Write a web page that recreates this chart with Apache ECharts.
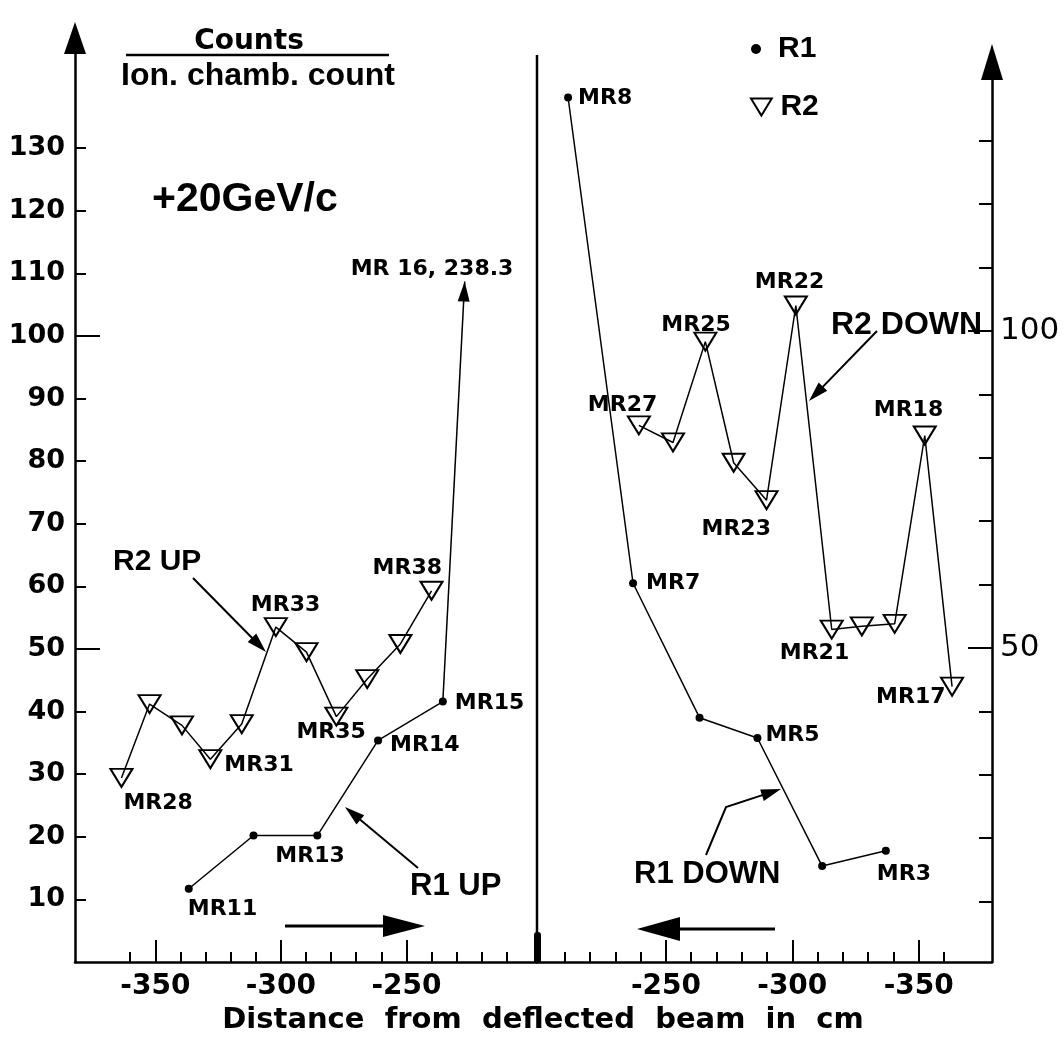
<!DOCTYPE html>
<html>
<head>
<meta charset="utf-8">
<script src="https://cdn.jsdelivr.net/npm/echarts@6/dist/echarts.min.js"></script>
<style>
  html, body { margin: 0; padding: 0; background: #fff; }
  #chart { width: 1064px; height: 1056px; }
</style>
</head>
<body>
<div id="chart"></div>
<script>
// Distance from the deflected beam (cm) and counts per ion-chamber count.
// R1 scans: filled dots; R2 scans: open triangles.
const r1UpX = [-336.7, -310.9, -285.5, -261.3, -235.5];
const r1UpY = [11.7, 20.2, 20.2, 35.4, 41.6];
const r1UpNames = ['MR11', '', 'MR13', 'MR14', 'MR15'];

// MR16 lies far off scale; the segment towards it is cut and ends in an arrow
const mr16Name = 'MR 16';
const mr16X = -210;
const mr16Y = 238.3;
const mr16CutY = 108.7;

const r2UpX = [-363.5, -352.3, -339.4, -328.1, -315.6, -302.0, -289.8, -277.9, -265.6, -252.4, -240.0];
const r2UpY = [29.4, 41.2, 37.8, 32.4, 38.0, 53.5, 49.5, 39.2, 45.2, 50.8, 59.3];
const r2UpNames = ['MR28', '', '', 'MR31', '', 'MR33', '', 'MR35', '', '', 'MR38'];

const r1DownX = [-211.3, -237.0, -263.3, -286.2, -311.8, -337.0];
const r1DownY = [136.8, 60.2, 39.0, 35.8, 15.6, 18.0];
const r1DownNames = ['MR8', 'MR7', '', 'MR5', '', 'MR3'];

const r2DownX = [-239.3, -252.8, -265.6, -276.8, -289.8, -301.4, -315.6, -327.5, -340.5, -352.4, -363.2];
const r2DownY = [85.1, 82.4, 98.3, 79.2, 73.3, 104.0, 52.9, 53.4, 53.8, 83.5, 43.9];
const r2DownNames = ['MR27', '', 'MR25', '', 'MR23', 'MR22', 'MR21', '', '', 'MR18', 'MR17'];

// Axis ticks and labels
const xMinorTicks = [-360, -350, -340, -330, -320, -310, -300, -290, -280, -270, -260, -250, -240, -230, -220, -210];
const xMajorTicks = [-350, -300, -250];
const yTicks = [10, 20, 30, 40, 50, 60, 70, 80, 90, 100, 110, 120, 130];
const yLeftLabels = [10, 20, 30, 40, 50, 60, 70, 80, 90, 100, 110, 120, 130];
const yLongTicks = [50, 100];
const yRightLabels = [50, 100];

const FONT = "'Liberation Sans', Arial, Helvetica, sans-serif";
const WIDE = "'DejaVu Sans', 'Liberation Sans', sans-serif";
const INK = '#000';

// where each point label sits relative to its point: [dx, dy] in px
const labelOffset = {
  MR28: [2, 25], MR31: [14, 6], MR33: [-25, -22], MR35: [-40, 16], MR38: [-59, -22],
  MR11: [-1, 21], MR13: [-42, 21], MR14: [12, 5], MR15: [12, 2],
  MR27: [-51, -20], MR25: [-44, -16], MR23: [-65, 29], MR22: [-41, -23], MR21: [-52, 24],
  MR18: [-51, -25], MR17: [-76, 11],
  MR8: [10, 1], MR7: [13, 0], MR5: [8, -3], MR3: [-9, 23]
};

function points(xs, ys, names) {
  return xs.map((x, i) => {
    const item = { value: [x, ys[i]] };
    const n = names[i];
    if (n) {
      item.label = {
        show: true, formatter: n, position: 'inside',
        offset: labelOffset[n], align: 'left', verticalAlign: 'middle'
      };
    }
    return item;
  });
}

const pointLabel = {
  show: false, color: INK, fontFamily: WIDE, fontWeight: 'bold', fontSize: 22
};

function dotSeries(xi, yi, data) {
  return {
    name: 'R1', type: 'line', xAxisIndex: xi, yAxisIndex: yi, data,
    symbol: 'circle', symbolSize: 8, showSymbol: true,
    itemStyle: { color: INK },
    lineStyle: { color: INK, width: 1.5 },
    label: pointLabel, emphasis: { disabled: true }, z: 4
  };
}
function triSeries(xi, yi, data) {
  return {
    name: 'R2', type: 'line', xAxisIndex: xi, yAxisIndex: yi, data,
    symbol: 'triangle', symbolRotate: 180, symbolSize: [22, 18], showSymbol: true,
    itemStyle: { color: 'rgba(255,255,255,0)', borderColor: INK, borderWidth: 2 },
    lineStyle: { color: INK, width: 1.5 },
    label: pointLabel, emphasis: { disabled: true }, z: 4
  };
}

// point where the MR15 -> MR16 segment is cut
const t16 = (mr16CutY - r1UpY[4]) / (mr16Y - r1UpY[4]);
const mr16CutX = r1UpX[4] + t16 * (mr16X - r1UpX[4]);

const axisLine = { show: true, lineStyle: { color: INK, width: 2.5 } };
const tickLabel = { color: INK, fontFamily: WIDE, fontWeight: 'bold', fontSize: 28 };

const option = {
  backgroundColor: '#fff',
  animation: false,
  grid: [
    { left: 75, top: 38, width: 462, bottom: 94, containLabel: false },
    { left: 537, top: 62, width: 455, bottom: 94, containLabel: false }
  ],
  legend: [
    {
      data: [{ name: 'R1', icon: 'circle' }],
      left: 746, top: 29, itemWidth: 34, itemHeight: 10, symbolKeepAspect: true,
      selectedMode: false,
      textStyle: { color: INK, fontFamily: FONT, fontWeight: 'bold', fontSize: 30 }
    },
    {
      data: [{ name: 'R2', icon: 'path://M0,0L22,0L11,18Z' }],
      left: 745, top: 87, itemWidth: 28, itemHeight: 17, symbolKeepAspect: true,
      selectedMode: false,
      itemStyle: { color: 'rgba(255,255,255,0)', borderColor: INK, borderWidth: 2 },
      textStyle: { color: INK, fontFamily: FONT, fontWeight: 'bold', fontSize: 30 }
    }
  ],
  xAxis: [
    {
      gridIndex: 0, type: 'value', min: -382, max: -198, position: 'bottom',
      axisLine: axisLine,
      axisTick: { show: true, inside: true, length: 10, customValues: xMinorTicks, lineStyle: { color: INK, width: 2 } },
      axisLabel: { show: false }, splitLine: { show: false }
    },
    {
      gridIndex: 0, type: 'value', min: -382, max: -198, position: 'bottom',
      axisLine: { show: false },
      axisTick: { show: true, inside: true, length: 22, customValues: xMajorTicks, lineStyle: { color: INK, width: 2 } },
      axisLabel: Object.assign({ customValues: xMajorTicks, margin: 11 }, tickLabel),
      splitLine: { show: false }
    },
    {
      gridIndex: 1, type: 'value', min: -379, max: -199, inverse: true, position: 'bottom',
      axisLine: axisLine,
      axisTick: { show: true, inside: true, length: 10, customValues: xMinorTicks, lineStyle: { color: INK, width: 2 } },
      axisLabel: { show: false }, splitLine: { show: false }
    },
    {
      gridIndex: 1, type: 'value', min: -379, max: -199, inverse: true, position: 'bottom',
      axisLine: { show: false },
      axisTick: { show: true, inside: true, length: 22, customValues: xMajorTicks, lineStyle: { color: INK, width: 2 } },
      axisLabel: Object.assign({ customValues: xMajorTicks, margin: 11 }, tickLabel),
      splitLine: { show: false }
    }
  ],
  yAxis: [
    {
      gridIndex: 0, type: 'value', min: 0, max: 147.6, position: 'left',
      axisLine: Object.assign({ symbol: ['none', 'triangle'], symbolSize: [22, 32] }, axisLine),
      axisTick: { show: true, inside: true, length: 11, customValues: yTicks, lineStyle: { color: INK, width: 2 } },
      axisLabel: Object.assign({ customValues: yLeftLabels, margin: 10 }, tickLabel, { fontSize: 27 }),
      splitLine: { show: false }
    },
    {
      gridIndex: 0, type: 'value', min: 0, max: 147.6, position: 'left',
      axisLine: { show: false },
      axisTick: { show: true, inside: true, length: 25, customValues: yLongTicks, lineStyle: { color: INK, width: 2 } },
      axisLabel: { show: false }, splitLine: { show: false }
    },
    {
      gridIndex: 1, type: 'value', min: 0.47, max: 142.4, position: 'right',
      axisLine: Object.assign({ symbol: ['none', 'triangle'], symbolSize: [22, 36] }, axisLine),
      axisTick: { show: true, inside: true, length: 13, customValues: yTicks, lineStyle: { color: INK, width: 2 } },
      axisLabel: { customValues: yRightLabels, margin: 8, color: INK, fontFamily: WIDE, fontSize: 31 },
      splitLine: { show: false }
    },
    {
      gridIndex: 1, type: 'value', min: 0.47, max: 142.4, position: 'right',
      axisLine: { show: false },
      axisTick: { show: true, inside: true, length: 24, customValues: yLongTicks, lineStyle: { color: INK, width: 2 } },
      axisLabel: { show: false }, splitLine: { show: false }
    }
  ],
  series: [
    triSeries(0, 0, points(r2UpX, r2UpY, r2UpNames)),
    dotSeries(0, 0, points(r1UpX, r1UpY, r1UpNames)),
    {
      name: 'MR16', type: 'line', xAxisIndex: 0, yAxisIndex: 0,
      data: [[r1UpX[4], r1UpY[4]], [mr16CutX, mr16CutY]],
      showSymbol: false, symbol: 'none',
      lineStyle: { color: INK, width: 1.5 }, emphasis: { disabled: true }, z: 3
    },
    triSeries(2, 2, points(r2DownX, r2DownY, r2DownNames)),
    dotSeries(2, 2, points(r1DownX, r1DownY, r1DownNames))
  ]
};

const chart = echarts.init(document.getElementById('chart'), null, { renderer: 'canvas' });
chart.setOption(option);

// pointer arrow: polyline through pts with a filled head at the last point
function arrow(pts, head, half, width) {
  const n = pts.length;
  const [x1, y1] = pts[n - 2];
  const [x2, y2] = pts[n - 1];
  const len = Math.hypot(x2 - x1, y2 - y1);
  const ux = (x2 - x1) / len, uy = (y2 - y1) / len;
  const bx = x2 - ux * head, by = y2 - uy * head;
  const shaft = pts.slice(0, n - 1).concat([[bx + ux * 2, by + uy * 2]]);
  return [
    { type: 'polyline', shape: { points: shaft }, style: { stroke: INK, lineWidth: width, fill: null }, z: 10 },
    { type: 'polygon', shape: { points: [[x2, y2], [bx - uy * half, by + ux * half], [bx + uy * half, by - ux * half]] },
      style: { fill: INK }, z: 10 }
  ];
}
function label(text, x, y, size, align, family) {
  return {
    type: 'text', x, y, z: 10,
    style: { text, fill: INK, font: 'bold ' + size + 'px ' + (family || FONT),
             textAlign: align || 'left', textVerticalAlign: 'middle' }
  };
}

// arrowhead and value label of the off-scale MR16 point
const p15 = chart.convertToPixel({ xAxisIndex: 0, yAxisIndex: 0 }, [r1UpX[4], r1UpY[4]]);
const pCut = chart.convertToPixel({ xAxisIndex: 0, yAxisIndex: 0 }, [mr16CutX, mr16CutY]);

const graphics = [].concat(
  // fraction in the y-axis title
  label('Counts', 249, 42, 28, 'center', WIDE),
  [{ type: 'line', shape: { x1: 126, y1: 55, x2: 389, y2: 55 }, style: { stroke: INK, lineWidth: 2.5 }, z: 10 }],
  label('Ion. chamb. count', 258, 76, 32, 'center'),
  label('+20GeV/c', 152, 200, 41),
  // divider between the two scan directions
  [{ type: 'line', shape: { x1: 537, y1: 55, x2: 537, y2: 962 }, style: { stroke: INK, lineWidth: 2.5 }, z: 10 },
   { type: 'rect', shape: { x: 534, y: 932, width: 7, height: 30, r: [3, 3, 0, 0] }, style: { fill: INK }, z: 10 }],
  arrow([p15, pCut], 20, 6, 0.1),
  label(mr16Name + ', ' + mr16Y.toFixed(1), pCut[0] - 114, pCut[1] - 12, 22, 'left', WIDE),
  // curve names with pointers
  label('R2 UP', 113, 562, 30),
  arrow([[193, 578], [266, 652]], 20, 6, 2),
  label('R1 UP', 410, 886, 31),
  arrow([[418, 868], [345, 807]], 20, 6, 2),
  label('R2 DOWN', 831, 325, 32),
  arrow([[877, 331], [809, 401]], 20, 6, 2),
  label('R1 DOWN', 634, 874, 31),
  arrow([[706, 855], [726, 807], [781, 789]], 20, 6, 2),
  // scan directions
  arrow([[285, 926], [425, 926]], 42, 11, 3),
  arrow([[775, 929], [637, 929]], 43, 12, 3),
  // x-axis title
  label('Distance  from  deflected  beam  in  cm', 543, 1020, 29, 'center', WIDE)
);
chart.setOption({ graphic: graphics });
</script>
</body>
</html>
